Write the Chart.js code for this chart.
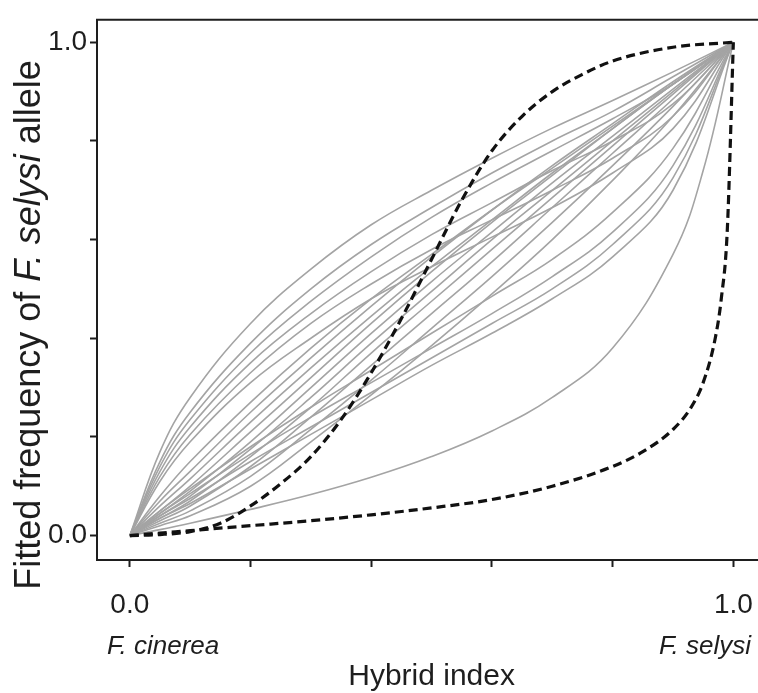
<!DOCTYPE html>
<html>
<head>
<meta charset="utf-8">
<script src="https://cdn.jsdelivr.net/npm/chart.js@4/dist/chart.umd.min.js"></script>
<style>
    html, body { margin: 0; padding: 0; background: #fff; overflow: hidden; }
    #wrap { width: 774px; height: 693px; }
</style>
</head>
<body>
<div id="wrap"><canvas id="cline-chart" width="774" height="693"></canvas></div>
<script>
// Hybrid index positions where the grey clines were read
var hybridIndex = [0, 0.05, 0.1, 0.2, 0.3, 0.4, 0.5, 0.6, 0.7, 0.8, 0.9, 1];

// Fitted frequency of F. selysi allele, one row per locus (grey)
var locusClines = [
    [0, 0.17, 0.28, 0.43, 0.54, 0.63, 0.70, 0.765, 0.826, 0.882, 0.94, 1],
    [0, 0.15, 0.25, 0.39, 0.50, 0.59, 0.665, 0.735, 0.80, 0.86, 0.93, 1],
    [0, 0.14, 0.235, 0.37, 0.475, 0.565, 0.645, 0.715, 0.78, 0.845, 0.915, 1],
    [0, 0.13, 0.22, 0.35, 0.45, 0.535, 0.61, 0.675, 0.74, 0.80, 0.875, 1],
    [0, 0.12, 0.205, 0.33, 0.43, 0.51, 0.58, 0.64, 0.70, 0.765, 0.85, 1],
    [0, 0.11, 0.19, 0.31, 0.40, 0.48, 0.545, 0.605, 0.665, 0.735, 0.825, 1],
    [0, 0.08, 0.15, 0.27, 0.38, 0.48, 0.57, 0.66, 0.745, 0.83, 0.915, 1],
    [0, 0.07, 0.13, 0.25, 0.36, 0.465, 0.565, 0.66, 0.75, 0.835, 0.92, 1],
    [0, 0.06, 0.115, 0.23, 0.34, 0.445, 0.545, 0.64, 0.735, 0.825, 0.915, 1],
    [0, 0.05, 0.10, 0.21, 0.32, 0.43, 0.535, 0.635, 0.73, 0.825, 0.915, 1],
    [0, 0.045, 0.09, 0.19, 0.30, 0.41, 0.515, 0.615, 0.715, 0.81, 0.905, 1],
    [0, 0.04, 0.08, 0.175, 0.28, 0.39, 0.495, 0.60, 0.70, 0.80, 0.90, 1],
    [0, 0.035, 0.07, 0.16, 0.26, 0.37, 0.475, 0.58, 0.685, 0.79, 0.895, 1],
    [0, 0.03, 0.06, 0.14, 0.24, 0.345, 0.45, 0.555, 0.665, 0.775, 0.885, 1],
    [0, 0.025, 0.05, 0.12, 0.215, 0.315, 0.42, 0.525, 0.635, 0.75, 0.87, 1],
    [0, 0.02, 0.04, 0.10, 0.19, 0.285, 0.385, 0.49, 0.60, 0.72, 0.85, 1],
    [0, 0.05, 0.095, 0.18, 0.26, 0.335, 0.41, 0.485, 0.56, 0.655, 0.785, 1],
    [0, 0.045, 0.085, 0.165, 0.24, 0.31, 0.38, 0.45, 0.525, 0.615, 0.75, 1],
    [0, 0.04, 0.075, 0.15, 0.22, 0.29, 0.36, 0.43, 0.50, 0.59, 0.725, 1],
    [0, 0.035, 0.065, 0.135, 0.205, 0.275, 0.345, 0.41, 0.48, 0.565, 0.70, 1]
];

// Grey locus far below the others
var lowLocusX = [0, 0.05, 0.1, 0.2, 0.3, 0.4, 0.5, 0.6, 0.7, 0.8, 0.9, 0.95, 1];
var lowLocusY = [0, 0.012, 0.025, 0.053, 0.083, 0.118, 0.16, 0.212, 0.28, 0.38, 0.57, 0.74, 1];

// Dashed limits (upper and lower)
var upperLimitX = [0, 0.05, 0.1, 0.15, 0.2, 0.25, 0.3, 0.35, 0.4, 0.45, 0.5, 0.55, 0.6, 0.65, 0.7, 0.75, 0.8, 0.9, 1];
var upperLimitY = [0, 0.002, 0.008, 0.025, 0.06, 0.105, 0.16, 0.235, 0.33, 0.44, 0.56, 0.68, 0.78, 0.85, 0.90, 0.935, 0.962, 0.99, 1];
var lowerLimitX = [0, 0.1, 0.2, 0.3, 0.4, 0.5, 0.6, 0.7, 0.8, 0.85, 0.9, 0.93, 0.95, 0.97, 0.98, 0.99, 1];
var lowerLimitY = [0, 0.01, 0.02, 0.03, 0.042, 0.056, 0.073, 0.10, 0.14, 0.17, 0.215, 0.26, 0.31, 0.40, 0.48, 0.62, 1];

// Ticks
var xTicks = [0, 0.2, 0.4, 0.6, 0.8, 1];
var xTickLabels = ['0.0', '', '', '', '', '1.0'];
var yTicks = [0, 0.2, 0.4, 0.6, 0.8, 1];
var yTickLabels = ['0.0', '', '', '', '', '1.0'];

var ink = '#1e1e1e';
var grey = '#a4a4a4';
var fontName = '"Liberation Sans", Arial, sans-serif';

function toPoints(xs, ys) {
    return xs.map(function (x, i) { return { x: x, y: ys[i] }; });
}

var datasets = [];
// Dashed first so they sit on top
datasets.push({ data: toPoints(upperLimitX, upperLimitY), borderColor: '#111', borderWidth: 3.2, borderDash: [9, 5], cubicInterpolationMode: 'monotone' });
datasets.push({ data: toPoints(lowerLimitX, lowerLimitY), borderColor: '#111', borderWidth: 3.2, borderDash: [9, 5], cubicInterpolationMode: 'monotone' });
datasets.push({ data: toPoints(lowLocusX, lowLocusY), borderColor: grey, borderWidth: 1.6, tension: 0.4 });
locusClines.forEach(function (row) {
    datasets.push({ data: toPoints(hybridIndex, row), borderColor: grey, borderWidth: 1.6, tension: 0.4 });
});
datasets.forEach(function (ds) {
    ds.pointRadius = 0;
    ds.fill = false;
});

/**
 * Frame top edge, species names and y title with italic part
 */
var extrasPlugin = {
    id: 'extras',
    afterDraw: function (chart) {
        var ctx = chart.ctx;
        var area = chart.chartArea;
        ctx.save();
        // Top edge of the box
        ctx.strokeStyle = ink;
        ctx.lineWidth = 2;
        ctx.beginPath();
        ctx.moveTo(area.left - 1, area.top);
        ctx.lineTo(area.right + 1, area.top);
        ctx.stroke();

        // Species under the x ticks
        ctx.fillStyle = ink;
        ctx.textBaseline = 'middle';
        ctx.font = 'italic 26px ' + fontName;
        ctx.textAlign = 'left';
        ctx.fillText('F. cinerea', 107, 647);
        ctx.textAlign = 'right';
        ctx.fillText('F. selysi', 751, 647);

        // Y title
        var parts = [
            { text: 'Fitted frequency of ', font: '36px ' + fontName },
            { text: 'F. selysi', font: 'italic 36px ' + fontName },
            { text: ' allele', font: '36px ' + fontName }
        ];
        var total = 0;
        parts.forEach(function (p) {
            ctx.font = p.font;
            p.w = ctx.measureText(p.text).width;
            total += p.w;
        });
        ctx.translate(30, 325);
        ctx.rotate(-Math.PI / 2);
        ctx.textAlign = 'left';
        var pos = -total / 2;
        parts.forEach(function (p) {
            ctx.font = p.font;
            ctx.fillText(p.text, pos, 0);
            pos += p.w;
        });
        ctx.restore();
    }
};

new Chart(document.getElementById('cline-chart').getContext('2d'), {
    type: 'line',
    data: { datasets: datasets },
    options: {
        responsive: false,
        animation: false,
        events: [],
        layout: { padding: { top: 8, right: 4, bottom: 0, left: 0 } },
        plugins: { legend: { display: false }, tooltip: { enabled: false } },
        scales: {
            x: {
                type: 'linear',
                min: -0.0544,
                max: 1.0544,
                afterBuildTicks: function (scale) {
                    scale.ticks = xTicks.map(function (v) { return { value: v }; });
                },
                afterFit: function (scale) { scale.height = 133; },
                ticks: {
                    color: ink,
                    font: { family: fontName, size: 28 },
                    padding: 21,
                    maxRotation: 0,
                    autoSkip: false,
                    callback: function (value) {
                        var i = xTicks.indexOf(value);
                        return i < 0 ? '' : xTickLabels[i];
                    }
                },
                grid: {
                    drawOnChartArea: false,
                    drawTicks: true,
                    tickLength: 7,
                    tickWidth: 2,
                    tickColor: ink
                },
                border: { display: true, color: ink, width: 2 },
                title: {
                    display: true,
                    text: 'Hybrid index',
                    color: ink,
                    font: { family: fontName, size: 30, lineHeight: 1.1 },
                    padding: { top: 0, bottom: 0 }
                }
            },
            y: {
                type: 'linear',
                min: -0.0496,
                max: 1.0456,
                afterBuildTicks: function (scale) {
                    scale.ticks = yTicks.map(function (v) { return { value: v }; });
                },
                afterFit: function (scale) { scale.width = 97; },
                ticks: {
                    color: ink,
                    font: { family: fontName, size: 28 },
                    padding: 3,
                    autoSkip: false,
                    callback: function (value) {
                        var i = yTicks.indexOf(value);
                        return i < 0 ? '' : yTickLabels[i];
                    }
                },
                grid: {
                    drawOnChartArea: false,
                    drawTicks: true,
                    tickLength: 7,
                    tickWidth: 2,
                    tickColor: ink
                },
                border: { display: true, color: ink, width: 2 }
            }
        }
    },
    plugins: [extrasPlugin]
});
</script>
</body>
</html>
